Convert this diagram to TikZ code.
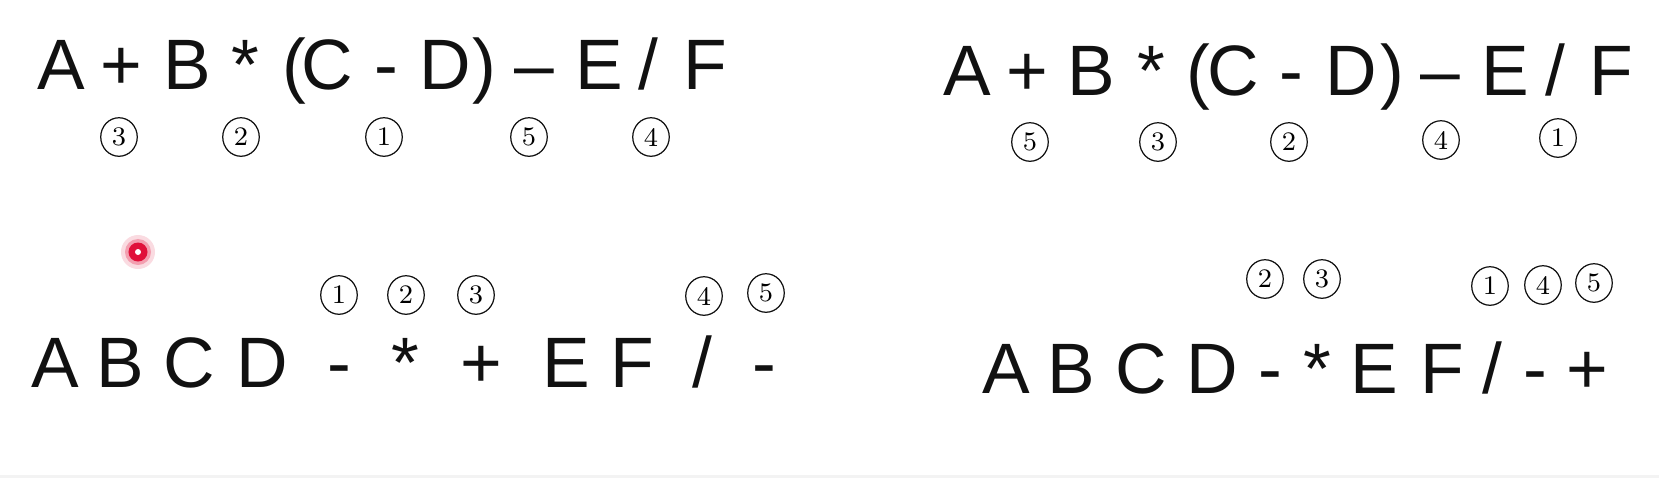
\documentclass[tikz,border=0pt]{standalone}
\usepackage{fontspec}
\usepackage{tikz}
\usetikzlibrary{shapes.geometric}
\newfontfamily\symfont{Liberation Sans}
\definecolor{ink}{HTML}{111111}
\definecolor{laser}{HTML}{E0103A}
\definecolor{strip}{HTML}{F3F3F3}

\begin{document}
\begin{tikzpicture}[x=0.01cm,y=-0.01cm,
  sym/.style={anchor=base,inner sep=0pt,text=ink,font=\symfont\fontsize{20.3pt}{24pt}\selectfont},
  num/.style={draw=ink,ellipse,line width=0.35pt,minimum width=0.365cm,minimum height=0.385cm,inner sep=0pt,font=\fontsize{7.6pt}{8pt}\selectfont}]
\useasboundingbox (0,0) rectangle (1659,478);
\fill[strip] (0,475) rectangle (1659,478);
% infix, top left
\foreach \x/\t [count=\i] in {61/A,121/+,187/B,245/*,294/(,327/C,386/-,445/D,484/),534/–,599/E,648/{/},705/F}
  \node[sym] (tl\i) at (\x,89) {\t};
\node[num] (tln3) at (119,137) {3};
\node[num] (tln2) at (241,137) {2};
\node[num] (tln1) at (384,137) {1};
\node[num] (tln5) at (529,137) {5};
\node[num] (tln4) at (651,137) {4};
% infix, top right
\foreach \x/\t [count=\i] in {967/A,1027/+,1091/B,1151/*,1198/(,1233/C,1291/-,1351/D,1392/),1440/–,1505/E,1555/{/},1611/F}
  \node[sym] (tr\i) at (\x,95) {\t};
\node[num] (trn5) at (1030,142) {5};
\node[num] (trn3) at (1158,142) {3};
\node[num] (trn2) at (1289,142) {2};
\node[num] (trn4) at (1441,140) {4};
\node[num] (trn1) at (1558,138) {1};
% postfix, bottom left
\foreach \x/\t [count=\i] in {55/A,120/B,189/C,262/D,339/-,405/*,481/+,566/E,632/F,702/{/},764/-}
  \node[sym] (bl\i) at (\x,387) {\t};
\node[num] (bln1) at (339,295) {1};
\node[num] (bln2) at (406,295) {2};
\node[num] (bln3) at (476,295) {3};
\node[num] (bln4) at (704,296) {4};
\node[num] (bln5) at (766,293) {5};
% postfix, bottom right
\foreach \x/\t [count=\i] in {1006/A,1071/B,1141/C,1212/D,1270/-,1317/*,1374/E,1442/F,1492/{/},1535/-,1587/+}
  \node[sym] (br\i) at (\x,393) {\t};
\node[num] (brn2) at (1265,279) {2};
\node[num] (brn3) at (1322,279) {3};
\node[num] (brn1) at (1490,286) {1};
\node[num] (brn4) at (1543,285) {4};
\node[num] (brn5) at (1594,283) {5};
% pointer dot
\fill[laser!15] (138,252) circle (0.17cm);
\fill[laser!40] (138,252) circle (0.13cm);
\fill[laser] (138,252) circle (0.095cm);
\fill[white] (138,252) circle (0.03cm);
\end{tikzpicture}
\end{document}
